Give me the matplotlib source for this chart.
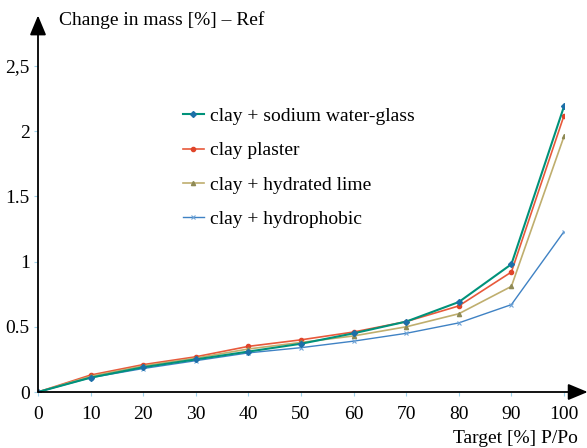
import matplotlib.pyplot as plt

# relative humidity steps
rh = [0, 10, 20, 30, 40, 50, 60, 70, 80, 90, 100]

water_glass = [0, 0.11, 0.19, 0.25, 0.31, 0.37, 0.45, 0.54, 0.69, 0.98, 2.19]
plaster = [0, 0.13, 0.21, 0.27, 0.35, 0.40, 0.46, 0.54, 0.66, 0.92, 2.12]
lime = [0, 0.12, 0.20, 0.26, 0.33, 0.38, 0.43, 0.50, 0.60, 0.81, 1.96]
hydrophobic = [0, 0.11, 0.18, 0.24, 0.30, 0.34, 0.39, 0.45, 0.53, 0.67, 1.23]

labels = ["clay + sodium water-glass", "clay plaster",
          "clay + hydrated lime", "clay + hydrophobic"]
yticks = [0, 0.5, 1, 1.5, 2, 2.5]
ytick_labels = ["0", "0.5", "1", "1.5", "2", "2,5"]

plt.rcParams['font.family'] = ['Liberation Serif', 'DejaVu Serif']

fig = plt.figure(figsize=(5.87, 4.48), dpi=100)
ax = fig.add_axes([38 / 587, 56 / 448, 526 / 587, 326 / 448])

ax.plot(rh, plaster, color='#e8593b', lw=1.2, marker='o', ms=3,
        mfc='#e0452a', mec='#e0452a', label=labels[1])
ax.plot(rh, lime, color='#bfae6e', lw=1.2, marker='^', ms=3,
        mfc='#8f8a55', mec='#8f8a55', label=labels[2])
ax.plot(rh, hydrophobic, color='#3f82c4', lw=1.0, marker='x', ms=3.5,
        mew=0.8, mec='#6fa3d6', label=labels[3])
ax.plot(rh, water_glass, color='#00927a', lw=1.5, marker='D', ms=3,
        mfc='#1c6fa8', mec='#1c6fa8', label=labels[0])

ax.set_xlim(0, 100)
ax.set_ylim(0, 2.5)
ax.set_xticks(rh)
ax.set_yticks(yticks)
ax.set_yticklabels(ytick_labels)
ax.tick_params(labelsize=14, length=3, color='#9fd3ec')
ax.tick_params(axis='x', pad=7)
ax.tick_params(axis='y', pad=3)

for s in ['top', 'right', 'left', 'bottom']:
    ax.spines[s].set_visible(False)

# axes with arrow heads
ax.annotate('', xy=(0, 1.155), xytext=(0, 0), xycoords='axes fraction',
            arrowprops=dict(arrowstyle='-|>,head_length=1.2,head_width=0.5',
                            color='black', lw=1.3, shrinkA=0, shrinkB=0))
ax.annotate('', xy=(1.045, 0), xytext=(0, 0), xycoords='axes fraction',
            arrowprops=dict(arrowstyle='-|>,head_length=1.2,head_width=0.5',
                            color='black', lw=1.3, shrinkA=0, shrinkB=0))

fig.text(59 / 587, 1 - 20 / 448, "Change in mass [%] – Ref", fontsize=14,
         va='center', ha='left')
fig.text(578 / 587, 1 - 438 / 448, "Target [%] P/Po", fontsize=14,
         va='center', ha='right')

h, l = ax.get_legend_handles_labels()
order = [3, 0, 1, 2]
ax.legend([h[i] for i in order], [l[i] for i in order],
          loc='upper left', bbox_to_anchor=(0.242, 0.926), frameon=False,
          fontsize=14, handlelength=1.1, handletextpad=0.3, labelspacing=0.85)

fig.savefig('out.png', dpi=100)
